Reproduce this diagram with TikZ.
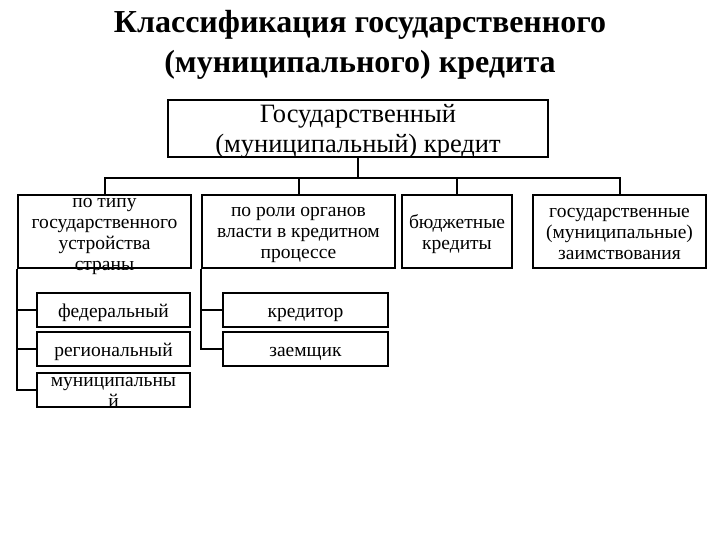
\documentclass[tikz,border=0pt]{standalone}
\usepackage{fontspec}
\setmainfont{Liberation Serif}
\usetikzlibrary{positioning}

\begin{document}
\begin{tikzpicture}[x=1pt, y=-1pt, line width=2pt,
    box/.style={draw, align=center, inner sep=0pt, font=\fontsize{19.5}{21}\selectfont},
    sub/.style={box, minimum height=34pt},
    one/.style={sub, text height=15pt, text depth=1pt}]
    \useasboundingbox (0,0) rectangle (720,540);
    % title
    \node[align=center, font=\fontsize{32}{40}\selectfont\bfseries] (title) at (360,45)
        {Классификация государственного\\(муниципального) кредита};
    % root
    \node[box, minimum width=380pt, minimum height=57pt, text depth=-4.5pt,
        font=\fontsize{26.5}{30}\selectfont] (root) at (358,128.5)
        {Государственный\\(муниципальный) кредит};
    % first level
    \node[box, minimum width=173pt, minimum height=73pt] (type) at (104.5,231.5) {};
    \node[align=center, inner sep=0pt, font=\fontsize{19.5}{21}\selectfont] (typetext)
        at ([yshift=-5pt]type.center) {по типу\\государственного\\устройства\\страны};
    \node[box, minimum width=193pt, minimum height=73pt, text height=59pt] (role) at (298.5,231.5)
        {по роли органов\\власти в кредитном\\процессе};
    \node[box, minimum width=110pt, minimum height=73pt, text height=41pt] (budget) at (457,231.5)
        {бюджетные\\кредиты};
    \node[box, minimum width=173pt, minimum height=73pt, text height=57pt] (borrow) at (619.5,231.5)
        {государственные\\(муниципальные)\\заимствования};
    % second level
    \node[one, minimum width=153pt] (fed) at (113.5,310) {федеральный};
    \node[one, minimum width=153pt] (reg) at (113.5,349) {региональный};
    \node[sub, minimum width=153pt, text height=34pt] (mun) at (113.5,390) {муниципальны\\й};
    \node[one, minimum width=165pt] (cred) at (305.5,310) {кредитор};
    \node[one, minimum width=165pt] (debt) at (305.5,349) {заемщик};
    % connectors
    \coordinate (bus) at (0,178);
    \draw (root.south) -- (root.south |- bus);
    \draw (type.north) -- (type.north |- bus) -- (borrow.north |- bus) -- (borrow.north);
    \draw (role.north) -- (role.north |- bus);
    \draw (budget.north) -- (budget.north |- bus);
    \draw (type.south west) |- (fed.west);
    \draw (type.south west) |- (reg.west);
    \draw (type.south west) |- (mun.west);
    \draw (role.south west) |- (cred.west);
    \draw (role.south west) |- (debt.west);
\end{tikzpicture}
\end{document}
